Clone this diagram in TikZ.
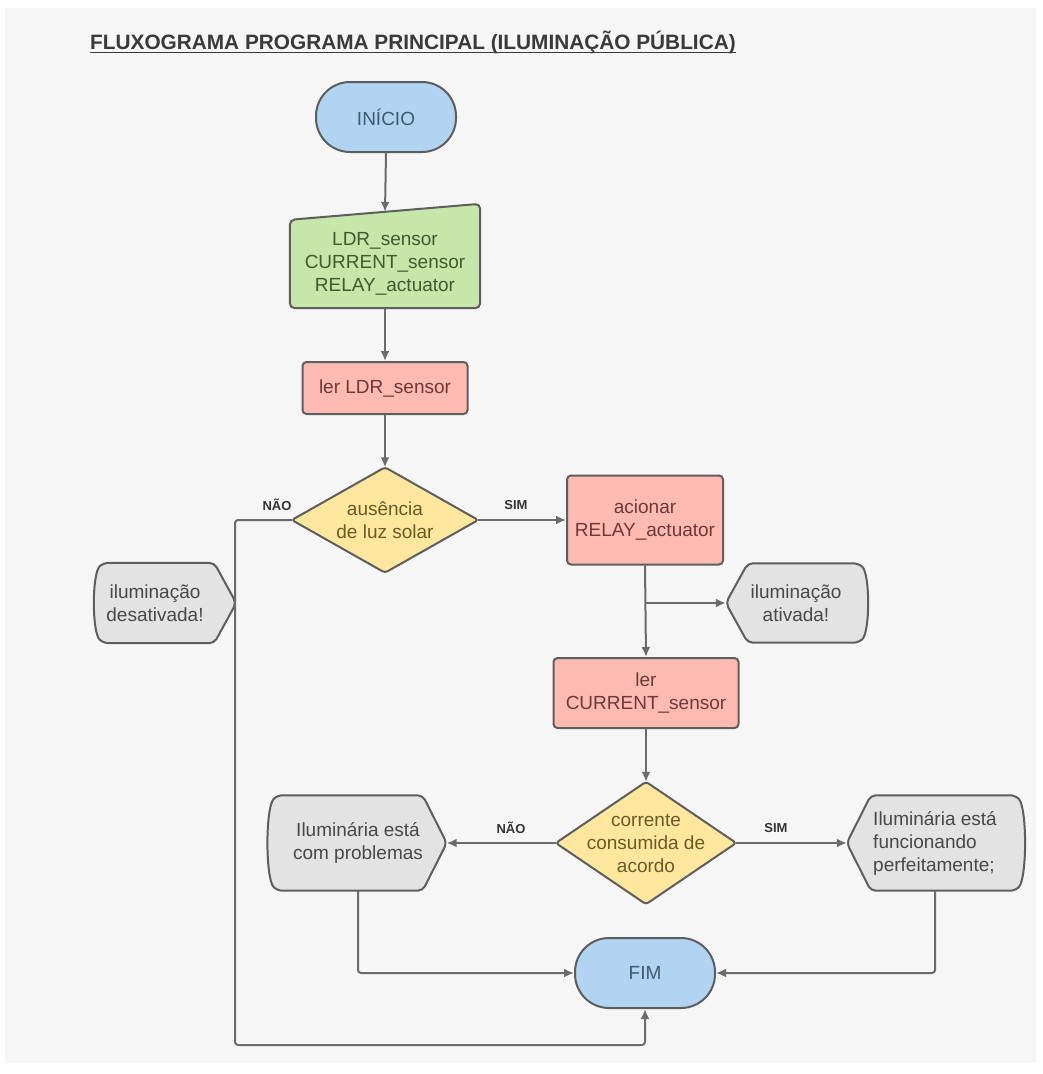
\documentclass[tikz,border=0pt]{standalone}
\usepackage{fontspec}
\setmainfont{Liberation Sans}
\usetikzlibrary{calc,arrows.meta}
\definecolor{bgc}{HTML}{F6F6F6}
\definecolor{bluef}{HTML}{B0D4F1}
\definecolor{greenf}{HTML}{C6E6AA}
\definecolor{pinkf}{HTML}{FFBAB1}
\definecolor{yelf}{HTML}{FFE79E}
\definecolor{grayf}{HTML}{E3E3E3}
\definecolor{strk}{HTML}{5E5E5E}
\definecolor{lnc}{HTML}{6B6B6B}
\definecolor{bluet}{HTML}{3F5A73}
\definecolor{greent}{HTML}{3E5C2E}
\definecolor{redt}{HTML}{6B3B38}
\definecolor{yelt}{HTML}{6A5A28}
\definecolor{grayt}{HTML}{484848}
\definecolor{lblc}{HTML}{333333}
\definecolor{titlec}{HTML}{3A3A3A}
\pgfdeclarelayer{bgl}
\pgfdeclarelayer{shp}
\pgfsetlayers{bgl,shp,main}
\begin{document}
\begin{tikzpicture}[x=1bp,y=-1bp,
  every node/.style={font=\fontsize{19bp}{23bp}\selectfont, align=center},
  box/.style={draw=strk, line width=2bp, inner sep=0pt},
  shapeln/.style={draw=strk, line width=2bp, rounded corners=5bp},
  free/.style={inner sep=0pt},
  arr/.style={draw=lnc, line width=2bp, rounded corners=3bp, -{Latex[length=10bp,width=9bp]}},
  lbl/.style={font=\bfseries\fontsize{13bp}{15bp}\selectfont, text=lblc, inner sep=0pt},
]
\useasboundingbox (0,0) rectangle (1043,1074);
\begin{pgfonlayer}{bgl}
\fill[white] (0,0) rectangle (1043,1074);
\fill[bgc] (5,8) rectangle (1036,1063);
\end{pgfonlayer}

% title
\node[anchor=west, font=\bfseries\fontsize{20.8bp}{24bp}\selectfont, text=titlec, inner sep=0pt] (title) at (90,42) {FLUXOGRAMA PROGRAMA PRINCIPAL (ILUMINAÇÃO PÚBLICA)};
\draw[titlec, line width=1.6bp] ($(title.base west)+(0,3.5)$) -- ($(title.base east)+(0,3.5)$);

% nodes
\node[box, fill=bluef, rounded corners=34bp, minimum width=140bp, minimum height=70bp, text=bluet] (start) at (386,117) {INÍCIO};
\node[free, minimum width=190bp, minimum height=88bp, text=greent] (input) at (385,264) {LDR\_sensor\\CURRENT\_sensor\\RELAY\_actuator};
\node[box, fill=pinkf, rounded corners=4bp, minimum width=165bp, minimum height=52bp, text=redt] (ldr) at (385,388) {ler LDR\_sensor};
\node[free, minimum width=186bp, minimum height=105bp, text=yelt] (d1) at (385,520) {ausência\\de luz solar};
\node[box, fill=pinkf, rounded corners=4bp, minimum width=156bp, minimum height=89bp, text=redt] (relay) at (645,520) {acionar\\RELAY\_actuator};
\node[free, minimum width=140bp, minimum height=79bp, text=grayt] (ativ) at (796,603) {iluminação\\ativada!};
\node[free, minimum width=118bp, minimum height=80bp, text=grayt] (desat) at (155,603) {iluminação\\desativada!};
\node[box, fill=pinkf, rounded corners=4bp, minimum width=185bp, minimum height=70bp, text=redt] (cur) at (646,693) {ler\\CURRENT\_sensor};
\node[free, minimum width=180bp, minimum height=122bp, text=yelt] (d2) at (646,843) {corrente\\consumida de\\acordo};
\node[free, minimum width=177bp, minimum height=95bp, text=grayt] (prob) at (358,843) {Iluminária está\\com problemas};
\node[free, minimum width=176bp, minimum height=95bp, text=grayt, align=left] (func) at (935,843) {Iluminária está\\funcionando\\perfeitamente;};
\node[box, fill=bluef, rounded corners=34bp, minimum width=140bp, minimum height=70bp, text=bluet] (fim) at (645,973) {FIM};

% shapes behind texts
\begin{pgfonlayer}{shp}
\path[shapeln, fill=greenf] (input.south west) -- (input.north west) -- ($(input.north east)+(0,-16)$) -- (input.south east) -- cycle;
\path[shapeln, fill=yelf, rounded corners=3bp] (d1.north) -- (d1.east) -- (d1.south) -- (d1.west) -- cycle;
\path[shapeln, fill=yelf, rounded corners=3bp] (d2.north) -- (d2.east) -- (d2.south) -- (d2.west) -- cycle;
% left-pointed displays
\path[shapeln, fill=grayf] (ativ.west) -- ($(ativ.north west)+(22,0)$) -- ($(ativ.north east)+(-8,0)$) .. controls ($(ativ.north east)+(4,10)$) and ($(ativ.south east)+(4,-10)$) .. ($(ativ.south east)+(-8,0)$) -- ($(ativ.south west)+(22,0)$) -- cycle;
\path[shapeln, fill=grayf] (func.west) -- ($(func.north west)+(24,0)$) -- ($(func.north east)+(-8,0)$) .. controls ($(func.north east)+(4,12)$) and ($(func.south east)+(4,-12)$) .. ($(func.south east)+(-8,0)$) -- ($(func.south west)+(24,0)$) -- cycle;
% right-pointed displays
\path[shapeln, fill=grayf] ($(desat.east)+(22,0)$) -- (desat.north east) -- ($(desat.north west)+(8,0)$) .. controls ($(desat.north west)+(-4,10)$) and ($(desat.south west)+(-4,-10)$) .. ($(desat.south west)+(8,0)$) -- (desat.south east) -- cycle;
\path[shapeln, fill=grayf] (prob.east) -- ($(prob.north east)+(-24,0)$) -- ($(prob.north west)+(8,0)$) .. controls ($(prob.north west)+(-4,12)$) and ($(prob.south west)+(-4,-12)$) .. ($(prob.south west)+(8,0)$) -- ($(prob.south east)+(-24,0)$) -- cycle;
\end{pgfonlayer}

% connectors
\coordinate (loop) at (235,1045);
\draw[arr] (start.south) -- ($(input.north)+(0,-8)$);
\draw[arr] (input.south) -- (ldr.north);
\draw[arr] (ldr.south) -- (d1.north);
\draw[arr] (d1.east) -- (relay.west);
\draw[arr] (relay.south) -- (cur.north);
\draw[arr] (relay.south |- ativ.west) -- (ativ.west);
\draw[arr] (cur.south) -- (d2.north);
\draw[arr] (d2.west) -- (prob.east);
\draw[arr] (d2.east) -- (func.west);
\draw[arr] (prob.south) |- (fim.west);
\draw[arr] (func.south) |- (fim.east);
\draw[arr] (d1.west) -| (loop) -| (fim.south);

% labels
\node[lbl] (l1) at (277,505) {NÃO};
\node[lbl] (l2) at (516,505) {SIM};
\node[lbl] (l3) at (511,828) {NÃO};
\node[lbl] (l4) at (776,828) {SIM};
\end{tikzpicture}
\end{document}
